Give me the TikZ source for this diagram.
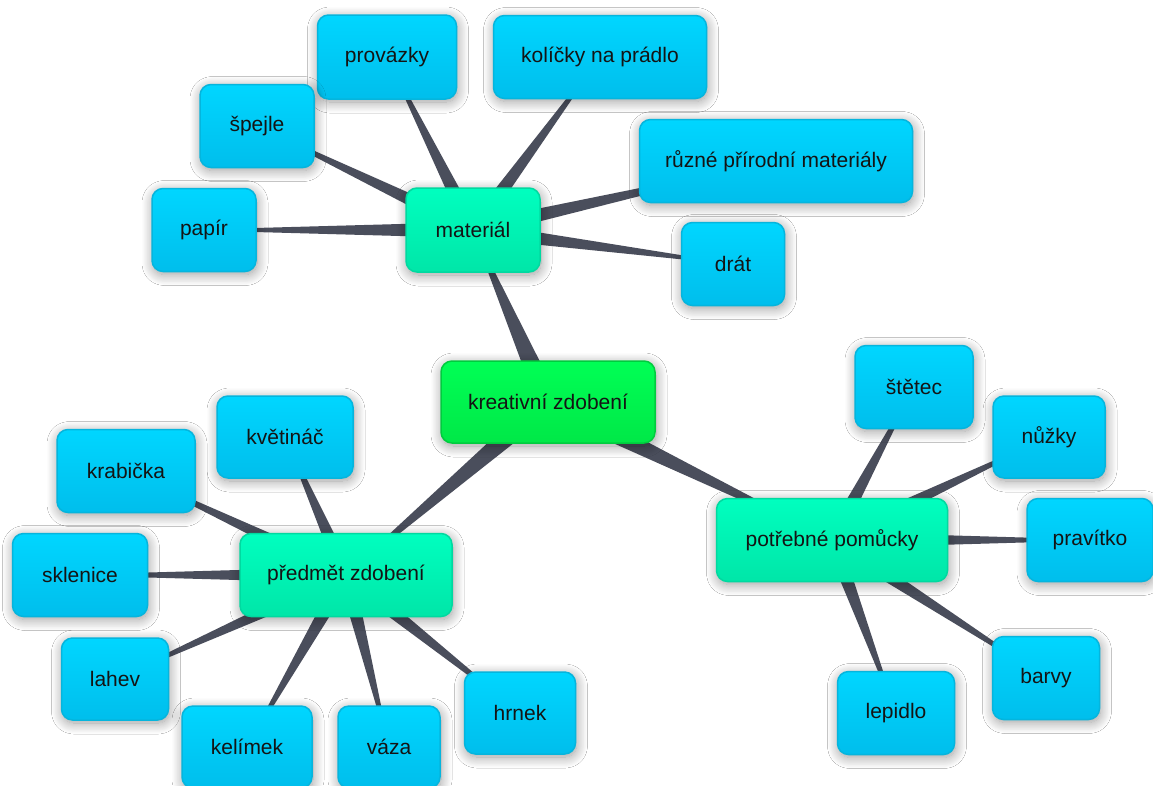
\documentclass[tikz,border=0pt]{standalone}
\usepackage{fontspec}
\setmainfont{Liberation Sans}
\usetikzlibrary{calc,shadows.blur,backgrounds}
\definecolor{spokec}{HTML}{4A4E5C}
\definecolor{textc}{HTML}{141414}
\definecolor{leaft}{HTML}{00D6FF}
\definecolor{leafb}{HTML}{00BEEC}
\definecolor{leafd}{HTML}{05B5DD}
\definecolor{hubt}{HTML}{00FFBF}
\definecolor{hubb}{HTML}{00E6A8}
\definecolor{hubd}{HTML}{00D9A0}
\definecolor{roott}{HTML}{00FF55}
\definecolor{rootb}{HTML}{00E847}
\definecolor{rootd}{HTML}{00CC3E}
\tikzset{
  box/.style={rounded corners=11pt, line width=1.5pt, inner sep=0pt, text=textc,
    font=\fontsize{21}{25}\selectfont,
    blur shadow={shadow xshift=1pt, shadow yshift=-3pt, shadow blur radius=11pt,
      shadow opacity=40, shadow blur steps=16}},
  leaf/.style={box, draw=leafd, top color=leaft, bottom color=leafb},
  hub/.style={box, draw=hubd, top color=hubt, bottom color=hubb},
  rootbox/.style={box, draw=rootd, top color=roott, bottom color=rootb},
  spokefill/.style={fill=spokec}
}
\newcommand\spoke[3]{\fill[spokefill] ($(#1)!#3!90:(#2)$) -- ($(#2)!0.6pt!-90:(#1)$) -- ($(#2)!0.6pt!90:(#1)$) -- ($(#1)!#3!-90:(#2)$) -- cycle;}
\begin{document}
\begin{tikzpicture}[x=1pt,y=-1pt]
\useasboundingbox (0,0) rectangle (1153,785);
% root and hubs
\node[rootbox, minimum width=214pt, minimum height=82pt] (kz) at (548,402) {kreativní zdobení};
\node[hub, minimum width=134pt, minimum height=84pt] (mat) at (473,230) {materiál};
\node[hub, minimum width=212pt, minimum height=83pt] (pred) at (346,575) {předmět zdobení};
\node[hub, minimum width=231pt, minimum height=83pt] (pom) at (832,540) {potřebné pomůcky};
% material leaves
\node[leaf, minimum width=139pt, minimum height=84pt] (provazky) at (387,57) {provázky};
\node[leaf, minimum width=213pt, minimum height=83pt] (kolicky) at (600,57) {kolíčky na prádlo};
\node[leaf, minimum width=114pt, minimum height=83pt] (spejle) at (257,126) {špejle};
\node[leaf, minimum width=273pt, minimum height=83pt] (ruzne) at (776,161) {různé přírodní materiály};
\node[leaf, minimum width=104pt, minimum height=83pt] (papir) at (204,230) {papír};
\node[leaf, minimum width=103pt, minimum height=83pt] (drat) at (733,264) {drát};
% pomucky leaves
\node[leaf, minimum width=118pt, minimum height=83pt] (stetec) at (914,387) {štětec};
\node[leaf, minimum width=112pt, minimum height=82pt] (nuzky) at (1049,437) {nůžky};
\node[leaf, minimum width=126pt, minimum height=83pt] (pravitko) at (1090,540) {pravítko};
\node[leaf, minimum width=107pt, minimum height=83pt] (barvy) at (1046,678) {barvy};
\node[leaf, minimum width=117pt, minimum height=83pt] (lepidlo) at (896,713) {lepidlo};
% predmet leaves
\node[leaf, minimum width=111pt, minimum height=82pt] (hrnek) at (520,713) {hrnek};
\node[leaf, minimum width=102pt, minimum height=82pt] (vaza) at (389,747) {váza};
\node[leaf, minimum width=130pt, minimum height=82pt] (kelimek) at (247,747) {kelímek};
\node[leaf, minimum width=107pt, minimum height=82pt] (lahev) at (115,679) {lahev};
\node[leaf, minimum width=135pt, minimum height=83pt] (sklenice) at (80,575) {sklenice};
\node[leaf, minimum width=138pt, minimum height=83pt] (krabicka) at (126,471) {krabička};
\node[leaf, minimum width=136pt, minimum height=82pt] (kvetinac) at (285,437) {květináč};
\begin{scope}[on background layer]
\fill[white] (0,0) rectangle (1153,785);
\spoke{kz}{mat}{11pt}
\spoke{kz}{pred}{11pt}
\spoke{kz}{pom}{11pt}
\spoke{mat}{provazky}{8pt}
\spoke{mat}{kolicky}{8pt}
\spoke{mat}{spejle}{8pt}
\spoke{mat}{ruzne}{8pt}
\spoke{mat}{papir}{8pt}
\spoke{mat}{drat}{8pt}
\spoke{pom}{stetec}{8pt}
\spoke{pom}{nuzky}{8pt}
\spoke{pom}{pravitko}{8pt}
\spoke{pom}{barvy}{8pt}
\spoke{pom}{lepidlo}{8pt}
\spoke{pred}{hrnek}{8pt}
\spoke{pred}{vaza}{8pt}
\spoke{pred}{kelimek}{8pt}
\spoke{pred}{lahev}{8pt}
\spoke{pred}{sklenice}{8pt}
\spoke{pred}{krabicka}{8pt}
\spoke{pred}{kvetinac}{8pt}
\end{scope}
\end{tikzpicture}
\end{document}
